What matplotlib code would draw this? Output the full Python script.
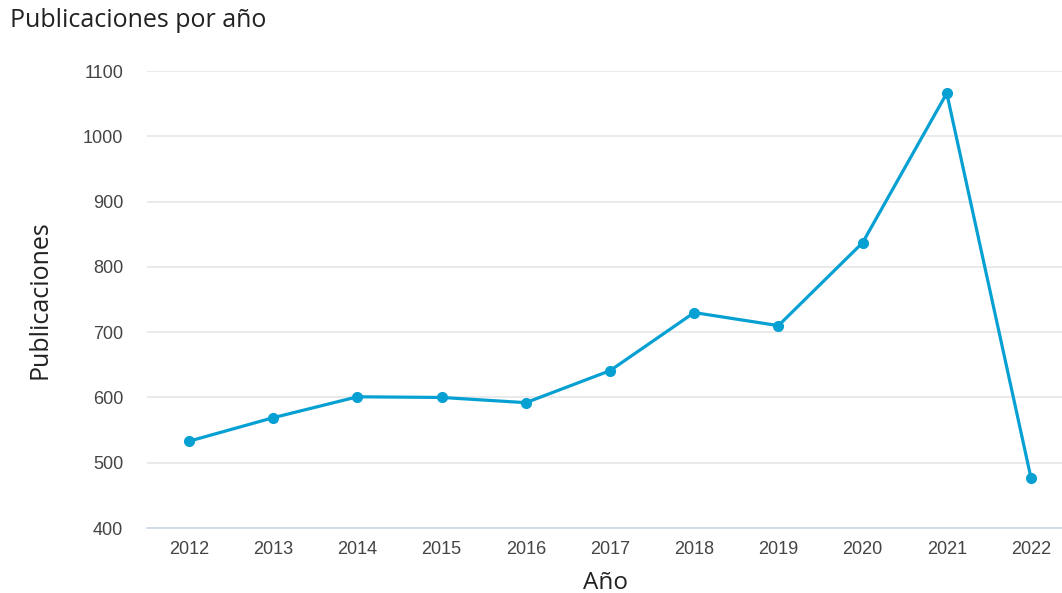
import numpy as np
import matplotlib.pyplot as plt

years = ['2012', '2013', '2014', '2015', '2016', '2017', '2018', '2019', '2020', '2021', '2022']
publicaciones = [533, 569, 601, 600, 592, 641, 730, 710, 837, 1066, 477]
y_ticks = [400, 500, 600, 700, 800, 900, 1000, 1100]

fig = plt.figure(figsize=(10.62, 5.93), dpi=100, facecolor='white')
ax = fig.add_axes([0.1384, 0.1096, 0.872, 0.7706])

x = np.arange(len(years))
ax.plot(x, publicaciones, color='#06a0d2', linewidth=2.3, marker='o',
        markersize=7, zorder=3, clip_on=False)

ax.set_xlim(-0.5, len(years) - 0.5)
ax.set_ylim(400, 1100)
ax.set_yticks(y_ticks)
ax.set_xticks(x)
ax.set_xticklabels(years)

ax.grid(True, axis='y', color='#e6e6e6', linewidth=1.2)
ax.set_axisbelow(True)
for side in ['top', 'right', 'left']:
    ax.spines[side].set_visible(False)
ax.spines['bottom'].set_color('#ccd6eb')
ax.spines['bottom'].set_linewidth(1.2)
ax.tick_params(axis='both', length=0, labelsize=13, labelcolor='#444444')
ax.tick_params(axis='y', pad=17)
ax.tick_params(axis='x', pad=9)
for lbl in ax.get_xticklabels() + ax.get_yticklabels():
    lbl.set_fontfamily('Liberation Sans')

ax.set_ylabel('Publicaciones', fontsize=18, color='#222222',
              family='Open Sans', labelpad=22)
ax.set_xlabel('Año', fontsize=17.5, color='#222222', family='Open Sans')
ax.xaxis.set_label_coords(0.495, -0.093)
fig.text(0.009, 0.966, 'Publicaciones por año', fontsize=18, color='#222222',
         family='Open Sans', ha='left', va='center')

fig.savefig('out.png', dpi=100)
